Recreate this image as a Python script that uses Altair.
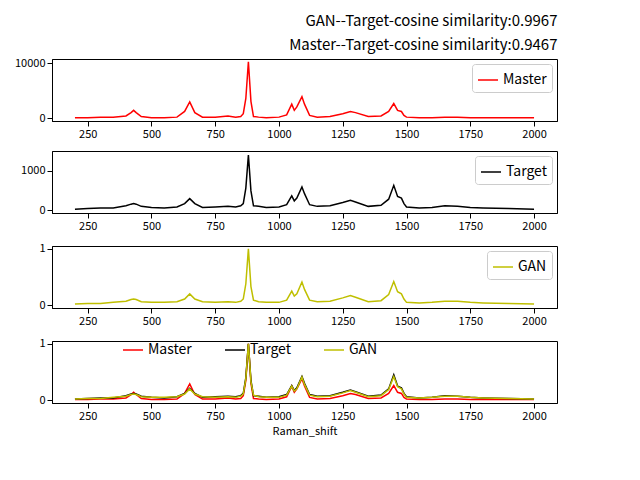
import altair as alt
import pandas as pd

x = [200,250,300,350,400,420,430,440,460,500,550,600,630,650,670,700,750,800,830,850,860,870,880,890,900,920,950,1000,1030,1050,1060,1070,1090,1100,1120,1150,1200,1250,1280,1300,1350,1400,1430,1450,1465,1480,1490,1500,1550,1600,1650,1700,1750,1800,1900,2000]
target = [0.02,0.03,0.04,0.04,0.08,0.11,0.12,0.11,0.07,0.05,0.04,0.06,0.12,0.21,0.12,0.05,0.06,0.07,0.06,0.08,0.12,0.4,1.0,0.35,0.08,0.07,0.05,0.06,0.1,0.26,0.17,0.22,0.42,0.3,0.1,0.07,0.08,0.14,0.18,0.15,0.07,0.09,0.2,0.45,0.25,0.22,0.12,0.06,0.04,0.05,0.08,0.07,0.05,0.04,0.03,0.02]
gan = [0.02,0.03,0.03,0.05,0.07,0.1,0.11,0.1,0.06,0.05,0.05,0.06,0.11,0.2,0.11,0.06,0.05,0.06,0.05,0.07,0.11,0.38,1.0,0.33,0.09,0.06,0.05,0.05,0.09,0.25,0.16,0.2,0.41,0.28,0.09,0.06,0.07,0.13,0.17,0.14,0.06,0.08,0.19,0.42,0.24,0.2,0.11,0.05,0.04,0.05,0.07,0.07,0.05,0.04,0.03,0.02]
master = [0.01,0.01,0.02,0.02,0.04,0.1,0.14,0.1,0.03,0.01,0.01,0.02,0.12,0.29,0.1,0.02,0.02,0.04,0.02,0.03,0.08,0.35,1.0,0.3,0.03,0.02,0.01,0.02,0.06,0.25,0.14,0.2,0.38,0.25,0.05,0.02,0.03,0.08,0.12,0.1,0.03,0.04,0.12,0.26,0.14,0.12,0.05,0.02,0.01,0.01,0.02,0.02,0.01,0.01,0.01,0.01]
master_scale = 10300
target_scale = 1400

FONT = "Noto Sans CJK SC"
xs = alt.Scale(domain=[110, 2090], nice=False)
xticks = [250,500,750,1000,1250,1500,1750,2000]
W, H = 505, 62

def panel(df, names, colors, ydom, yticks, legend, xtitle=None):
    return alt.Chart(df).mark_line(strokeWidth=1.5).encode(
        x=alt.X("x:Q", scale=xs, title=xtitle, axis=alt.Axis(values=xticks, grid=False, format="d")),
        y=alt.Y("y:Q", scale=alt.Scale(domain=ydom, nice=False, zero=False), title=None,
                axis=alt.Axis(values=yticks, grid=False, format="d")),
        color=alt.Color("s:N", scale=alt.Scale(domain=names, range=colors), legend=legend),
    ).properties(width=W, height=H)

def mk(names, ys):
    rows = []
    for n, yy in zip(names, ys):
        rows += [{"x": a, "y": b, "s": n} for a, b in zip(x, yy)]
    return pd.DataFrame(rows)

leg = alt.Legend(orient="top-right", title=None, labelFontSize=14, symbolType="stroke",
                 symbolSize=400, strokeColor="#ccc", padding=5, cornerRadius=3, fillColor="white", offset=5)
p1 = panel(mk(["Master"], [[v*master_scale for v in master]]), ["Master"], ["red"], [-500, 10800], [0, 10000], leg)
p2 = panel(mk(["Target"], [[v*target_scale for v in target]]), ["Target"], ["black"], [-70, 1500], [0, 1000], leg)
p3 = panel(mk(["GAN"], [gan]), ["GAN"], ["#bfbf00"], [-0.05, 1.05], [0, 1], leg)
leg4 = alt.Legend(orient="none", legendX=70, legendY=-2, direction="horizontal", title=None, labelFontSize=14,
                  symbolType="stroke", symbolSize=400, columnPadding=30)
p4 = panel(mk(["Master", "Target", "GAN"], [master, target, gan]), ["Master", "Target", "GAN"],
           ["red", "black", "#bfbf00"], [-0.05, 1.05], [0, 1], leg4, xtitle="Raman_shift")

chart = alt.vconcat(p1, p2, p3, p4, spacing=10).resolve_scale(color="independent").properties(
    title=alt.TitleParams(["GAN--Target-cosine similarity:0.9967", "Master--Target-cosine similarity:0.9467"],
                          anchor="end", fontSize=15, fontWeight="normal", font=FONT, lineHeight=24, offset=4)
).configure_view(stroke="black").configure_axis(
    labelFont=FONT, titleFont=FONT, labelFontSize=11, titleFontSize=11, titleFontWeight="normal",
    domainColor="black", tickColor="black", labelColor="black", titlePadding=4
).configure_legend(labelFont=FONT)

chart.save("out.html", embed_options={"renderer": "svg", "actions": False})
